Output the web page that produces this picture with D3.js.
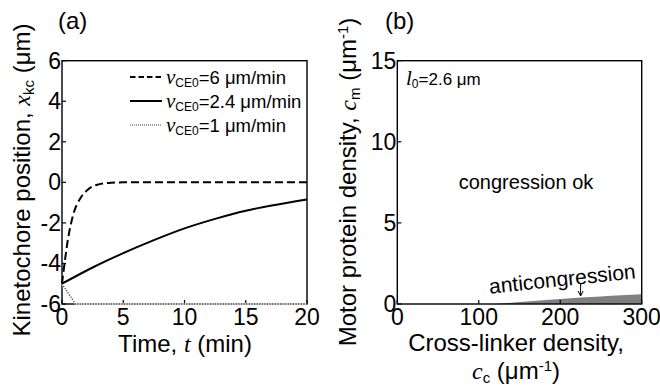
<!DOCTYPE html>
<html>
<head>
<meta charset="utf-8">
<script src="https://cdn.jsdelivr.net/npm/d3@7"></script>
<style>
  html, body { margin: 0; padding: 0; background: #fff; }
  svg text { font-family: "Liberation Sans", Arial, sans-serif; fill: #000; }
  .it { font-family: "Liberation Serif", "Times New Roman", serif; font-style: italic; }
</style>
</head>
<body>
<svg id="chart" width="660" height="390"></svg>
<script>
// ---- Panel (a): kinetochore trajectories ----
const timeFast = [0, 0.25, 0.5, 0.75, 1, 1.25, 1.5, 2, 2.5, 3, 3.5, 4, 5, 6, 8, 10, 12, 14, 16, 18, 20];
const xkcFast  = [-5, -3.8, -2.75, -2.0, -1.42, -1.05, -0.78, -0.42, -0.2, -0.1, -0.05, -0.02, 0, 0, 0, 0, 0, 0, 0, 0, 0];
const timeMid  = [0, 2.5, 5, 7.5, 10, 12.5, 15, 17.5, 20];
const xkcMid   = [-5, -4.2, -3.49, -2.85, -2.27, -1.8, -1.4, -1.1, -0.84];
const timeSlow = [0, 1.1, 20];
const xkcSlow  = [-5, -6, -6];
const legendLabels = ["=6 μm/min", "=2.4 μm/min", "=1 μm/min"];
const timeTicks = [0, 5, 10, 15, 20];
const xkcTicks  = [-6, -4, -2, 0, 2, 4, 6];

// ---- Panel (b): phase diagram ----
const ccBoundary = [122, 150, 175, 200, 225, 250, 275, 300];
const cmBoundary = [0, 0.12, 0.22, 0.31, 0.4, 0.47, 0.54, 0.6];
const ccTicks = [0, 100, 200, 300];
const cmTicks = [0, 5, 10, 15];

const svg = d3.select("#chart");
const tickFont = 23;
const titleFont = 24;

function frame(g, x, y, xTicks, yTicks) {
  const [x0, x1] = x.range();
  const [y0, y1] = y.range();
  g.append("rect")
    .attr("x", x0).attr("y", y1)
    .attr("width", x1 - x0).attr("height", y0 - y1)
    .attr("fill", "none").attr("stroke", "#000").attr("stroke-width", 1.4);
  g.selectAll(".xt").data(xTicks).join("line")
    .attr("x1", d => x(d)).attr("x2", d => x(d))
    .attr("y1", y0).attr("y2", y0 - 4)
    .attr("stroke", "#000").attr("stroke-width", 1.2);
  g.selectAll(".yt").data(yTicks).join("line")
    .attr("x1", x0).attr("x2", x0 + 4)
    .attr("y1", d => y(d)).attr("y2", d => y(d))
    .attr("stroke", "#000").attr("stroke-width", 1.2);
  g.selectAll(".xl").data(xTicks).join("text")
    .attr("x", d => x(d)).attr("y", y0 + 21)
    .attr("text-anchor", "middle").attr("font-size", tickFont)
    .text(d => d);
  g.selectAll(".yl").data(yTicks).join("text")
    .attr("x", x0 - 1).attr("y", d => y(d) + 8)
    .attr("text-anchor", "end").attr("font-size", tickFont)
    .text(d => d);
}

// Panel (a)
const xa = d3.scaleLinear().domain([0, 20]).range([62, 307]);
const ya = d3.scaleLinear().domain([-6, 6]).range([304, 60.7]);
const ga = svg.append("g");

const lineA = d3.line().x(d => xa(d[0])).y(d => ya(d[1])).curve(d3.curveMonotoneX);
const straight = d3.line().x(d => xa(d[0])).y(d => ya(d[1]));
const fast = timeFast.map((t, i) => [t, xkcFast[i]]);
const mid  = timeMid.map((t, i) => [t, xkcMid[i]]);
const slow = timeSlow.map((t, i) => [t, xkcSlow[i]]);

frame(ga, xa, ya, timeTicks, xkcTicks);

// slow trajectory runs along the pole (x = -6), drawn over the frame
ga.append("path").attr("d", straight(slow))
  .attr("fill", "none").attr("stroke", "#fff").attr("stroke-width", 1.6);
ga.append("path").attr("d", straight(slow))
  .attr("fill", "none").attr("stroke", "#444").attr("stroke-width", 1.3)
  .attr("stroke-dasharray", "1.2,1.4");
ga.append("path").attr("d", lineA(mid))
  .attr("fill", "none").attr("stroke", "#000").attr("stroke-width", 2);
ga.append("path").attr("d", lineA(fast))
  .attr("fill", "none").attr("stroke", "#000").attr("stroke-width", 2)
  .attr("stroke-dasharray", "8,4");

// legend
const legStyles = [
  { dash: "5.5,3", w: 2, c: "#000" },
  { dash: null, w: 2, c: "#000" },
  { dash: "1,1", w: 1.2, c: "#444" }
];
const leg = ga.append("g");
legendLabels.forEach((lab, i) => {
  const yy = 77 + i * 24;
  const ln = leg.append("line").attr("x1", 130).attr("x2", 162)
    .attr("y1", yy).attr("y2", yy)
    .attr("stroke", legStyles[i].c).attr("stroke-width", legStyles[i].w);
  if (legStyles[i].dash) ln.attr("stroke-dasharray", legStyles[i].dash);
  const t = leg.append("text").attr("x", 166).attr("y", yy + 6.5).attr("font-size", 18.5);
  t.append("tspan").attr("class", "it").attr("font-size", 21).text("v");
  t.append("tspan").attr("font-size", 12).attr("dy", 3).text("CE0");
  t.append("tspan").attr("dy", -3).text(lab);
});

// axis titles (a)
svg.append("text").attr("x", 58).attr("y", 29).attr("font-size", titleFont).text("(a)");
const xta = svg.append("text").attr("x", 185).attr("y", 352)
  .attr("text-anchor", "middle").attr("font-size", titleFont);
xta.append("tspan").text("Time, ");
xta.append("tspan").attr("class", "it").text("t");
xta.append("tspan").text(" (min)");
const yta = svg.append("text")
  .attr("transform", "translate(30,180) rotate(-90)")
  .attr("text-anchor", "middle").attr("font-size", titleFont);
yta.append("tspan").text("Kinetochore position, ");
yta.append("tspan").attr("class", "it").text("x");
yta.append("tspan").attr("font-size", 15).attr("dy", 4).text("kc");
yta.append("tspan").attr("dy", -4).text(" (μm)");

// Panel (b)
const xb = d3.scaleLinear().domain([0, 300]).range([397.3, 641.7]);
const yb = d3.scaleLinear().domain([0, 15]).range([304, 60.7]);
const gb = svg.append("g");

const area = d3.area().x(d => xb(d[0])).y0(yb(0)).y1(d => yb(d[1])).curve(d3.curveMonotoneX);
gb.append("path").attr("d", area(ccBoundary.map((c, i) => [c, cmBoundary[i]])))
  .attr("fill", "#7f7f7f");
frame(gb, xb, yb, ccTicks, cmTicks);

const l0 = gb.append("text").attr("x", 406).attr("y", 85).attr("font-size", 17);
l0.append("tspan").attr("class", "it").attr("font-size", 21).text("l");
l0.append("tspan").attr("font-size", 12).attr("dy", 3).text("0");
l0.append("tspan").attr("dy", -3).text("=2.6 μm");

gb.append("text").attr("x", 526).attr("y", 189).attr("text-anchor", "middle")
  .attr("font-size", 20).text("congression ok");
gb.append("text")
  .attr("transform", "translate(563,286) rotate(-6)")
  .attr("text-anchor", "middle").attr("font-size", 21).text("anticongression");
// arrow pointing into the shaded region
gb.append("line").attr("x1", xb(225)).attr("x2", xb(225))
  .attr("y1", 283).attr("y2", 295).attr("stroke", "#000").attr("stroke-width", 1);
gb.append("path")
  .attr("d", `M${xb(225) - 2.5},${291} L${xb(225)},${296} L${xb(225) + 2.5},${291}`)
  .attr("fill", "none").attr("stroke", "#000").attr("stroke-width", 1);

svg.append("text").attr("x", 385).attr("y", 29).attr("font-size", titleFont).text("(b)");
svg.append("text").attr("x", 516).attr("y", 351).attr("text-anchor", "middle")
  .attr("font-size", titleFont).text("Cross-linker density,");
const xtb2 = svg.append("text").attr("x", 516).attr("y", 379)
  .attr("text-anchor", "middle").attr("font-size", titleFont);
xtb2.append("tspan").attr("class", "it").text("c");
xtb2.append("tspan").attr("font-size", 15).attr("dy", 4).text("c");
xtb2.append("tspan").attr("dy", -4).text(" (μm");
xtb2.append("tspan").attr("font-size", 15).attr("dy", -8).text("-1");
xtb2.append("tspan").attr("dy", 8).text(")");
const ytb = svg.append("text")
  .attr("transform", "translate(356,182) rotate(-90)")
  .attr("text-anchor", "middle").attr("font-size", titleFont);
ytb.append("tspan").text("Motor protein density, ");
ytb.append("tspan").attr("class", "it").text("c");
ytb.append("tspan").attr("font-size", 15).attr("dy", 4).text("m");
ytb.append("tspan").attr("dy", -4).text(" (μm");
ytb.append("tspan").attr("font-size", 15).attr("dy", -8).text("-1");
ytb.append("tspan").attr("dy", 8).text(")");
</script>
</body>
</html>
